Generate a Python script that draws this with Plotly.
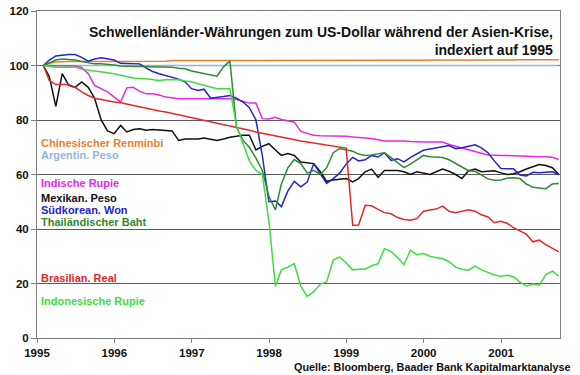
import pandas as pd
import plotly.graph_objects as go

# Monthly observations (month-end), Jan 1995 .. Sep 2001, indexed 1995 = 100
dates = pd.date_range(start="1995-01-31", periods=81, freq=pd.offsets.MonthEnd())

renminbi = [100, 100.8, 101.3, 101.5, 101.5, 101.5, 101.5, 101.5, 101.5, 101.5,
            101.5, 101.5, 101.6, 101.6, 101.6, 101.6, 101.6, 101.6, 101.6, 101.6,
            101.8, 101.8, 101.8, 101.8, 101.8, 101.8, 101.8, 101.8, 101.8, 101.8,
            101.9, 101.9, 101.9, 101.9, 102, 102, 102, 102, 102, 102,
            102, 102, 102, 102, 102, 102, 102, 102, 102, 102,
            102, 102, 102, 102, 102, 102, 102, 102, 102, 102,
            102, 102, 102, 102, 102, 102, 102, 102, 102, 102,
            102, 102, 102, 102, 102.1, 102.1, 102.1, 102.1, 102.1, 102.1,
            102.1]

argentina = [100, 100, 100, 100, 100, 100, 100, 100, 100, 100,
             100, 100, 100, 100, 100, 100, 100, 100, 100, 100,
             100, 100, 100, 100, 100, 100, 100, 100, 100, 100,
             100, 100, 100, 100, 100, 100, 100, 100, 100, 100,
             100, 100, 100, 100, 100, 100, 100, 100, 100, 100,
             100, 100, 100, 100, 100, 100, 100, 100, 100, 100,
             100, 100, 100, 100, 100, 100, 100, 100, 100, 100,
             100, 100, 100, 100, 100, 100, 100, 100, 100, 100,
             100]

rupie_in = [100, 100, 100, 100, 99.8, 99.8, 99.3, 97, 92.7, 91.5,
            90.3, 88.5, 86.6, 91.8, 92, 90.5, 89.6, 89.6, 89.2, 88.4,
            88, 87.8, 87.8, 87.8, 87.8, 87.8, 87.8, 87.8, 87.8, 87.8,
            87.5, 86.8, 86.2, 86.2, 80.5, 80.4, 81, 80.2, 79.8, 79.2,
            75.8, 75, 74.4, 74.2, 74.2, 74.2, 74.1, 74, 73.8, 73.5,
            73.4, 73.2, 72.8, 72.3, 72.3, 72.4, 72.3, 72.1, 71.9, 71.9,
            71.9, 71.9, 71.9, 71, 70.3, 69.8, 69, 68.5, 67.8, 67.2,
            67, 67, 67, 67, 66.8, 66.7, 66.5, 66.5, 66.5, 66.3,
            65.5]

peso_mx = [100, 96, 85, 97, 92.7, 92, 94, 92, 88, 80,
           76, 75, 78, 75.6, 76.5, 76.8, 76.2, 76.5, 76.3, 76.2,
           76, 72.5, 73, 73, 73, 73.4, 72.8, 72.5, 73, 73.7,
           74, 74.4, 74.4, 69, 70.3, 71.3, 69, 67, 67.7, 67,
           64.6, 64.3, 64, 61, 57.5, 58, 58.3, 58.5, 57.3, 58.5,
           61, 62, 59, 61.5, 61.5, 61.5, 61, 60, 61, 60.5,
           60, 61, 62, 61.2, 60, 58.5, 61.4, 62, 61, 61.2,
           61.4, 60.6, 60, 60.3, 61, 62, 62.8, 63.7, 63.3, 62.5,
           60]

won_kr = [100, 102, 103.5, 103.8, 104, 104, 103, 101.6, 102.4, 102.8,
          102.5, 102, 100.8, 100.7, 100.6, 100.6, 99, 97.8, 97, 96.3,
          95.5, 95, 94, 91.5, 90.8, 91.3, 88, 88.2, 88.6, 89,
          88, 86.6, 84.5, 80, 67, 50, 50.3, 48.2, 54, 57.5,
          55.5, 57.2, 64, 60.2, 56.7, 58.5, 60.5, 63.8, 66.3, 65,
          65.4, 67, 66.4, 68, 65.2, 65.8, 64.6, 66.3, 67.5, 68.9,
          69.4, 69.8, 70.1, 70.6, 69.5, 69.8, 70.4, 70.9, 69.8, 68,
          65, 62.2, 62.1, 62.1, 59.8, 59.5, 60.8, 60.6, 60.8, 61,
          60]

baht_th = [100, 101, 102, 102.4, 102.2, 102, 101.5, 101, 100.6, 100.6,
           100.5, 100.2, 99.8, 99.6, 99.6, 99.6, 99.6, 99.6, 99.6, 99.5,
           99.4, 99, 98.8, 98, 97.5, 97, 96.5, 96.1, 99.5, 101.7,
           77.4, 72.5, 70, 66, 61.5, 52, 47, 56.5, 62.5, 65.5,
           64, 60.5, 61.5, 60, 62.5, 68, 69.5, 69.1, 68.5, 67.5,
           67, 67.2, 67.6, 68, 66.2, 64.4, 62.5, 63.8, 65.5, 67,
           66.5, 66.3, 66.2, 65.4, 64.1, 62.6, 61.4, 61.2, 59.8, 58.4,
           57.9, 58, 58.7, 58.8, 58.5, 56.5, 55.3, 55.1, 54.8, 56.5,
           56.7]

real_br = [100, 94.5, 93, 93, 93, 92, 90.3, 89, 88, 87.5,
           87, 86.6, 86.3, 85.8, 85.3, 84.8, 84.3, 83.8, 83.3, 82.9,
           82.4, 81.9, 81.4, 81, 80.5, 80, 79.4, 78.9, 78.3, 77.8,
           77.3, 76.7, 76.2, 75.6, 75.1, 74.6, 74.1, 73.6, 73.1, 72.7,
           72.3, 71.9, 71.5, 71.1, 70.8, 70.4, 70.1, 69.7, 41.4, 41.5,
           48.7, 48.5, 47.2, 46, 45.6, 44.2, 43.5, 43.2, 43.8, 46.5,
           47, 47.3, 48.4, 46.5, 46, 46.5, 47.1, 46.5, 45.2, 44.4,
           42.3, 42.8, 42, 40.5, 39.2, 38.1, 35.3, 35.9, 34.3, 33,
           31.6]

rupie_id = [100, 99.7, 99.4, 99.4, 99.4, 99.4, 98.6, 98.2, 97.9, 97.6,
            97.3, 97, 96.6, 96, 95.4, 95.1, 95.1, 94.8, 94.5, 94.8,
            94.9, 94.9, 94.3, 94, 93.3, 92.8, 92, 91.5, 91.5, 91.5,
            78, 71, 65, 61.5, 60, 43, 19, 25, 26, 27.3,
            19, 15.3, 17, 19.8, 20.6, 28.6, 29.8, 27.5, 25, 25.2,
            25.3, 26.5, 27.3, 32.8, 31.8, 29.5, 26.9, 32.2, 30.6, 31,
            30, 29.5, 29.1, 28, 26, 25.2, 24.9, 26.4, 25, 24.1,
            23.1, 22.7, 23, 22.5, 20.5, 19.1, 19.8, 19.4, 23.3, 24.5,
            22.7]

names = ["Chinesischer Renminbi", "Argentin. Peso", "Indische Rupie", "Mexikan. Peso",
         "Südkorean. Won", "Thailändischer Baht", "Brasilian. Real", "Indonesische Rupie"]
series = [renminbi, argentina, rupie_in, peso_mx, won_kr, baht_th, real_br, rupie_id]
colors = ["#E8802E", "#95B3D7", "#E22BE2", "#111111", "#2424C8", "#2E8B2E", "#E02A2A", "#3FDC3F"]
label_y = [71.5, 67.3, 56.9, 51.2, 47.1, 42.6, 21.9, 13.6]

year_ticks = ["1995-01-01", "1996-01-01", "1997-01-01", "1998-01-01",
              "1999-01-01", "2000-01-01", "2001-01-01"]
year_labels = ["1995", "1996", "1997", "1998", "1999", "2000", "2001"]

FONT = "Liberation Sans, Arial, sans-serif"

fig = go.Figure()
for name, vals, col in zip(names, series, colors):
    fig.add_trace(go.Scatter(x=dates, y=vals, mode="lines", name=name,
                             line=dict(color=col, width=1.5)))

for name, col, ly in zip(names, colors, label_y):
    fig.add_annotation(x=0.003, xref="paper", y=ly, yref="y", text=name,
                       showarrow=False, xanchor="left", yanchor="middle",
                       font=dict(family=FONT, size=11, color=col, weight="bold"))

fig.add_annotation(x=0.99, xref="paper", y=0.909, yref="paper",
                   text="Schwellenländer-Währungen zum US-Dollar während der Asien-Krise,<br>indexiert auf 1995",
                   showarrow=False, xanchor="right", yanchor="middle", align="right",
                   font=dict(family=FONT, size=14, color="#111111", weight="bold"))
fig.add_annotation(x=1.025, xref="paper", y=-0.088, yref="paper",
                   text="Quelle: Bloomberg, Baader Bank Kapitalmarktanalyse",
                   showarrow=False, xanchor="right", yanchor="middle",
                   font=dict(family=FONT, size=10.8, color="#111111", weight="bold"))

fig.update_layout(
    width=580, height=375,
    margin=dict(l=37, r=20, t=11, b=37, autoexpand=False),
    paper_bgcolor="white", plot_bgcolor="white",
    showlegend=False,
    font=dict(family=FONT, color="#111111"),
)
fig.update_xaxes(range=["1995-01-01", "2001-10-06"], tickvals=year_ticks, ticktext=year_labels,
                 automargin=False,
                 showgrid=False, showline=True, linecolor="#808080", linewidth=1, mirror=True,
                 ticks="outside", ticklen=4, tickcolor="#808080",
                 tickfont=dict(family=FONT, size=11.5, color="#111111", weight="bold"))
fig.update_yaxes(range=[0, 120], dtick=20, showgrid=True, gridcolor="#5a5a5a", gridwidth=1,
                 automargin=False,
                 zeroline=False, showline=True, linecolor="#808080", linewidth=1, mirror=True,
                 ticks="outside", ticklen=5, tickcolor="#808080",
                 tickfont=dict(family=FONT, size=11.5, color="#111111", weight="bold"))

fig.write_html("out.html", config={"displayModeBar": False},
               post_script="document.body.style.margin='0';document.body.style.padding='0';")
